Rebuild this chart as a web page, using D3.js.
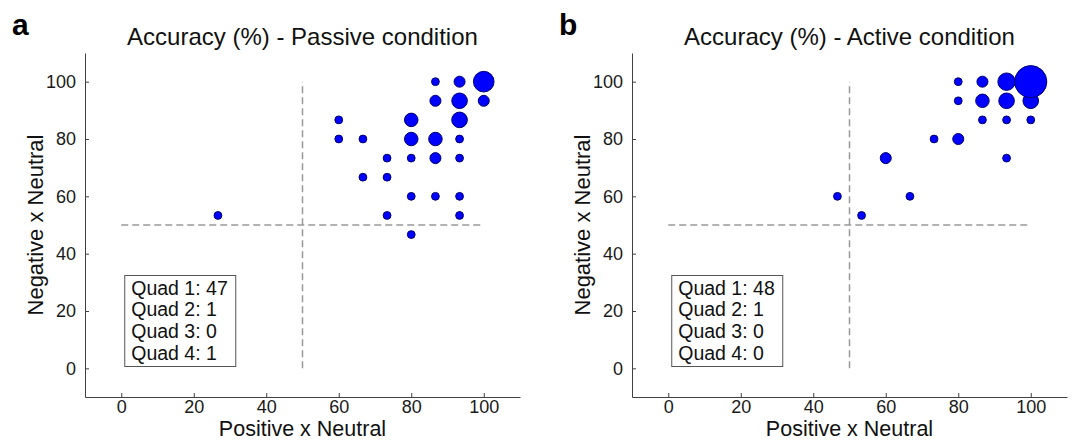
<!DOCTYPE html>
<html>
<head>
<meta charset="utf-8">
<script src="https://cdn.jsdelivr.net/npm/d3@7"></script>
<style>
  body { margin: 0; background: #fff; }
  text { font-family: "Liberation Sans", Arial, sans-serif; }
</style>
</head>
<body>
<svg width="1074" height="441"></svg>
<script>
// passive condition: positive x neutral, negative x neutral, number of subjects
const passiveX = [26.67, 60, 60, 66.67, 66.67, 73.33, 73.33, 73.33, 80, 80, 80, 80, 80,
    86.67, 86.67, 86.67, 86.67, 86.67, 93.33, 93.33, 93.33, 93.33, 93.33, 93.33, 93.33, 100, 100]
const passiveY = [53.33, 86.67, 80, 80, 66.67, 73.33, 66.67, 53.33, 86.67, 80, 73.33, 60, 46.67,
    100, 93.33, 80, 73.33, 60, 100, 93.33, 86.67, 80, 73.33, 60, 53.33, 93.33, 100]
const passiveN = [1, 1, 1, 1, 1, 1, 1, 1, 3, 3, 1, 1, 1,
    1, 2, 3, 2, 1, 2, 4, 4, 1, 1, 1, 1, 2, 7]

// active condition
const activeX = [46.67, 53.33, 60, 66.67, 73.33, 80, 80, 80, 86.67, 86.67, 86.67,
    93.33, 93.33, 93.33, 93.33, 100, 100, 100]
const activeY = [60, 53.33, 73.33, 60, 80, 100, 93.33, 80, 100, 93.33, 86.67,
    100, 93.33, 86.67, 73.33, 86.67, 93.33, 100]
const activeN = [1, 1, 2, 1, 1, 1, 1, 2, 2, 3, 1, 5, 4, 1, 1, 1, 4, 17]

const xTicks = [0, 20, 40, 60, 80, 100]
const yTicks = [0, 20, 40, 60, 80, 100]
const titles = ["Accuracy (%) - Passive condition", "Accuracy (%) - Active condition"]
const letters = ["a", "b"]

let svg = d3.select("svg")
let panels = [
    {x: passiveX, y: passiveY, n: passiveN},
    {x: activeX, y: activeY, n: activeN}
]

let r = d3.scaleSqrt().domain([0, 1]).range([0, 3.9])

panels.forEach(function (p, k) {
    let off = k * 547
    let x = d3.scaleLinear().domain([-10, 110]).range([85 + off, 520 + off])
    let y = d3.scaleLinear().domain([-10, 110]).range([397, 53])
    let g = svg.append("g")

    // axes
    let xa = g.append("g")
        .attr("transform", "translate(0," + y(-10) + ")")
        .call(d3.axisBottom(x).tickValues(xTicks).tickSizeInner(-4).tickSizeOuter(0).tickPadding(3.5))
    let ya = g.append("g")
        .attr("transform", "translate(" + x(-10) + ",0)")
        .call(d3.axisLeft(y).tickValues(yTicks).tickSizeInner(-4).tickSizeOuter(0).tickPadding(9))
    ;[xa, ya].forEach(function (a) {
        a.select(".domain").attr("stroke", "#404040")
        a.selectAll(".tick line").attr("stroke", "#404040")
        a.selectAll(".tick text").attr("fill", "#1a1a1a").style("font-size", "18px")
            .style("font-family", '"Liberation Sans", Arial, sans-serif')
    })

    // quadrant lines
    g.append("line")
        .attr("x1", x(50)).attr("x2", x(50))
        .attr("y1", y(0)).attr("y2", y(100))
        .attr("stroke", "#999").attr("stroke-width", 1.5).attr("stroke-dasharray", "7,4")
    g.append("line")
        .attr("x1", x(0)).attr("x2", x(100))
        .attr("y1", y(50)).attr("y2", y(50))
        .attr("stroke", "#999").attr("stroke-width", 1.5).attr("stroke-dasharray", "7,4")

    // points, bigger ones on top
    let pts = p.x.map((d, i) => ({x: d, y: p.y[i], n: p.n[i]}))
        .sort((a, b) => a.n - b.n)
    g.append("g").selectAll("circle").data(pts)
        .enter().append("circle")
        .attr("cx", d => x(d.x))
        .attr("cy", d => y(d.y))
        .attr("r", d => r(d.n))
        .style("fill", "#0000ff")
        .style("stroke", "#00006e")
        .style("stroke-width", 1)

    // quadrant counts
    let q = [0, 0, 0, 0]
    pts.forEach(function (d) {
        if (d.x > 50 && d.y > 50) q[0] += d.n
        else if (d.x < 50 && d.y > 50) q[1] += d.n
        else if (d.x < 50 && d.y < 50) q[2] += d.n
        else q[3] += d.n
    })
    let bx = x(0) + 3.5
    g.append("rect")
        .attr("x", bx).attr("y", 275.5)
        .attr("width", 111).attr("height", 91)
        .attr("fill", "#fff").attr("stroke", "#555").attr("stroke-width", 1)
    g.selectAll(".quad").data(q)
        .enter().append("text")
        .attr("x", bx + 6.5)
        .attr("y", (d, i) => 294.5 + i * 21.7)
        .style("font-size", "19.5px")
        .attr("fill", "#111")
        .text((d, i) => "Quad " + (i + 1) + ": " + d)

    // labels
    g.append("text")
        .attr("x", (x(-10) + x(110)) / 2)
        .attr("y", 45)
        .attr("text-anchor", "middle")
        .style("font-size", "24px")
        .attr("fill", "#111")
        .text(titles[k])
    g.append("text")
        .attr("x", 12 + off)
        .attr("y", 35)
        .style("font-size", "30px")
        .style("font-weight", "bold")
        .attr("fill", "#000")
        .text(letters[k])
    g.append("text")
        .attr("x", (x(-10) + x(110)) / 2)
        .attr("y", 436.3)
        .attr("text-anchor", "middle")
        .style("font-size", "21.5px")
        .attr("fill", "#111")
        .text("Positive x Neutral")
    g.append("text")
        .attr("transform", "translate(" + (43 + off) + "," + ((y(-10) + y(110)) / 2) + ") rotate(-90)")
        .attr("text-anchor", "middle")
        .style("font-size", "22px")
        .attr("fill", "#111")
        .text("Negative x Neutral")
})
</script>
</body>
</html>
